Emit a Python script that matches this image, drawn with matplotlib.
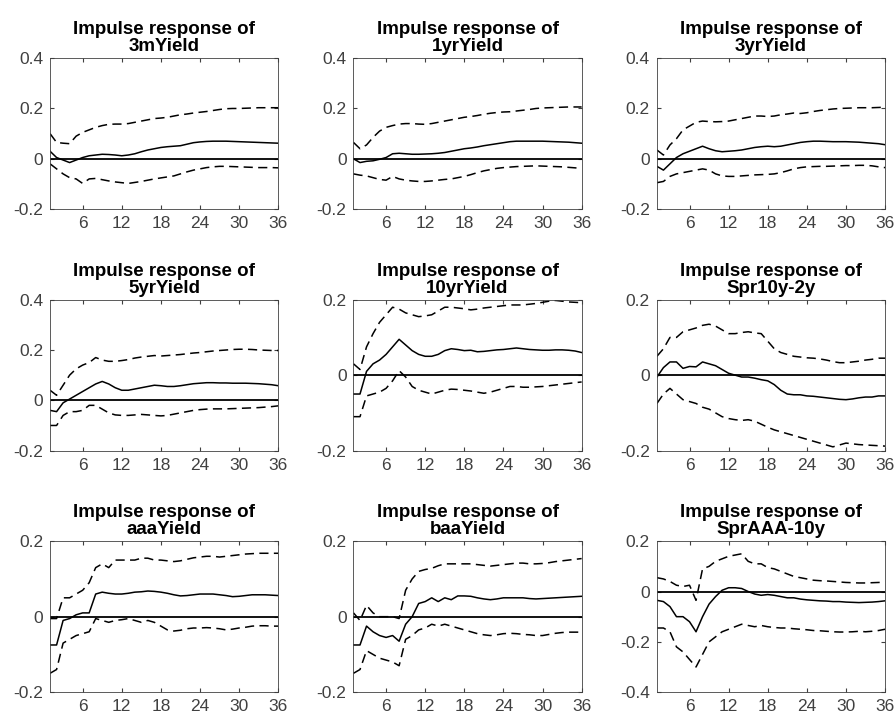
import matplotlib
matplotlib.use("Agg")
import matplotlib.pyplot as plt
import numpy as np

plt.rcParams['font.family'] = ['Liberation Sans', 'DejaVu Sans']

h = np.arange(1, 37)

names = ["3mYield", "1yrYield", "3yrYield", "5yrYield", "10yrYield", "Spr10y-2y",
         "aaaYield", "baaYield", "SprAAA-10y"]

ylims = [(-0.2, 0.4), (-0.2, 0.4), (-0.2, 0.4), (-0.2, 0.4), (-0.2, 0.2), (-0.2, 0.2),
         (-0.2, 0.2), (-0.2, 0.2), (-0.4, 0.2)]

mid = [
    [0.03,0.005,-0.005,-0.015,-0.005,0.005,0.012,0.015,0.018,0.017,0.015,0.012,0.015,0.02,0.028,0.035,0.04,0.045,0.048,0.05,0.052,0.058,0.064,0.067,0.069,0.07,0.07,0.07,0.069,0.068,0.067,0.066,0.065,0.064,0.063,0.062],
    [0.0,-0.015,-0.01,-0.008,-0.002,0.005,0.02,0.022,0.02,0.018,0.018,0.019,0.02,0.022,0.025,0.03,0.035,0.04,0.043,0.047,0.052,0.056,0.06,0.064,0.068,0.07,0.07,0.07,0.07,0.07,0.069,0.068,0.067,0.066,0.064,0.062],
    [-0.03,-0.045,-0.02,0.005,0.02,0.03,0.04,0.05,0.04,0.032,0.028,0.03,0.032,0.035,0.04,0.045,0.048,0.05,0.048,0.05,0.055,0.06,0.065,0.068,0.07,0.07,0.069,0.068,0.068,0.068,0.067,0.066,0.064,0.062,0.06,0.056],
    [-0.04,-0.045,-0.01,0.005,0.02,0.035,0.05,0.065,0.075,0.065,0.05,0.04,0.04,0.045,0.05,0.055,0.06,0.058,0.055,0.055,0.058,0.062,0.066,0.068,0.07,0.07,0.069,0.069,0.068,0.068,0.068,0.067,0.066,0.064,0.062,0.058],
    [-0.05,-0.05,0.01,0.03,0.04,0.055,0.075,0.095,0.08,0.065,0.055,0.05,0.05,0.055,0.065,0.07,0.068,0.065,0.066,0.062,0.063,0.065,0.067,0.068,0.07,0.072,0.07,0.068,0.067,0.066,0.066,0.067,0.067,0.066,0.064,0.06],
    [-0.005,0.02,0.035,0.035,0.018,0.023,0.022,0.035,0.03,0.025,0.015,0.005,0.0,-0.005,-0.005,-0.008,-0.012,-0.015,-0.025,-0.04,-0.05,-0.052,-0.052,-0.055,-0.056,-0.058,-0.06,-0.062,-0.064,-0.065,-0.063,-0.06,-0.058,-0.058,-0.055,-0.055],
    [-0.075,-0.075,-0.01,-0.005,0.005,0.01,0.01,0.06,0.065,0.062,0.06,0.06,0.062,0.065,0.066,0.068,0.067,0.065,0.062,0.058,0.055,0.056,0.058,0.06,0.06,0.06,0.058,0.056,0.053,0.054,0.056,0.058,0.058,0.058,0.057,0.056],
    [-0.075,-0.075,-0.025,-0.04,-0.05,-0.055,-0.05,-0.065,-0.02,0.0,0.035,0.04,0.05,0.04,0.05,0.045,0.055,0.055,0.054,0.05,0.047,0.045,0.047,0.05,0.05,0.05,0.05,0.048,0.047,0.048,0.049,0.05,0.051,0.052,0.053,0.054],
    [-0.035,-0.04,-0.06,-0.1,-0.1,-0.12,-0.16,-0.1,-0.05,-0.02,0.005,0.015,0.015,0.012,0.0,-0.01,-0.015,-0.012,-0.015,-0.02,-0.025,-0.025,-0.03,-0.033,-0.035,-0.037,-0.038,-0.04,-0.04,-0.042,-0.043,-0.044,-0.043,-0.042,-0.04,-0.037],
]

upper = [
    [0.1,0.065,0.062,0.06,0.09,0.105,0.115,0.125,0.132,0.137,0.138,0.138,0.14,0.145,0.15,0.155,0.16,0.162,0.165,0.17,0.175,0.178,0.182,0.185,0.188,0.192,0.196,0.199,0.2,0.2,0.201,0.202,0.203,0.203,0.203,0.203],
    [0.065,0.04,0.055,0.085,0.11,0.125,0.132,0.138,0.14,0.14,0.138,0.137,0.14,0.145,0.15,0.155,0.16,0.165,0.168,0.172,0.177,0.181,0.184,0.186,0.187,0.19,0.193,0.196,0.2,0.202,0.203,0.204,0.205,0.206,0.206,0.206],
    [0.035,0.015,0.055,0.08,0.115,0.13,0.145,0.15,0.148,0.147,0.148,0.15,0.155,0.16,0.165,0.17,0.17,0.168,0.17,0.175,0.178,0.182,0.18,0.183,0.188,0.192,0.195,0.198,0.2,0.201,0.202,0.203,0.203,0.203,0.204,0.205],
    [0.04,0.02,0.06,0.1,0.125,0.14,0.15,0.17,0.16,0.155,0.155,0.158,0.162,0.168,0.172,0.175,0.178,0.176,0.178,0.18,0.182,0.185,0.188,0.19,0.193,0.196,0.198,0.2,0.202,0.203,0.203,0.202,0.2,0.199,0.198,0.198],
    [0.03,0.015,0.075,0.11,0.14,0.16,0.18,0.175,0.165,0.16,0.155,0.157,0.16,0.17,0.18,0.18,0.178,0.176,0.173,0.175,0.178,0.18,0.182,0.184,0.186,0.186,0.186,0.188,0.19,0.193,0.196,0.198,0.196,0.194,0.193,0.192],
    [0.05,0.07,0.1,0.1,0.115,0.12,0.125,0.132,0.135,0.13,0.12,0.11,0.11,0.113,0.115,0.112,0.11,0.09,0.07,0.06,0.055,0.05,0.048,0.046,0.045,0.043,0.04,0.036,0.033,0.033,0.035,0.037,0.04,0.042,0.045,0.045],
    [-0.005,-0.005,0.05,0.05,0.06,0.07,0.09,0.13,0.14,0.13,0.15,0.15,0.15,0.15,0.155,0.155,0.15,0.15,0.148,0.146,0.148,0.152,0.156,0.158,0.16,0.16,0.158,0.16,0.162,0.164,0.166,0.167,0.168,0.168,0.168,0.168],
    [0.01,-0.01,0.03,0.01,0.0,0.0,0.0,-0.005,0.07,0.1,0.12,0.125,0.128,0.135,0.14,0.14,0.14,0.14,0.14,0.138,0.136,0.134,0.136,0.138,0.14,0.142,0.142,0.14,0.14,0.141,0.143,0.146,0.148,0.15,0.152,0.154],
    [0.055,0.05,0.04,0.025,0.02,0.025,-0.035,0.09,0.1,0.12,0.13,0.14,0.145,0.15,0.12,0.11,0.11,0.095,0.09,0.08,0.07,0.06,0.055,0.05,0.045,0.043,0.042,0.04,0.038,0.036,0.035,0.034,0.034,0.035,0.036,0.037],
]

lower = [
    [-0.02,-0.04,-0.06,-0.075,-0.08,-0.098,-0.08,-0.078,-0.083,-0.088,-0.092,-0.095,-0.098,-0.094,-0.09,-0.085,-0.08,-0.076,-0.072,-0.068,-0.06,-0.052,-0.045,-0.04,-0.035,-0.032,-0.03,-0.03,-0.031,-0.032,-0.033,-0.034,-0.035,-0.035,-0.035,-0.036],
    [-0.06,-0.065,-0.068,-0.075,-0.082,-0.085,-0.07,-0.08,-0.085,-0.088,-0.09,-0.09,-0.088,-0.085,-0.082,-0.08,-0.075,-0.07,-0.063,-0.055,-0.048,-0.043,-0.038,-0.035,-0.033,-0.031,-0.03,-0.029,-0.028,-0.029,-0.03,-0.031,-0.032,-0.034,-0.036,-0.038],
    [-0.095,-0.09,-0.07,-0.06,-0.055,-0.05,-0.045,-0.04,-0.045,-0.06,-0.068,-0.07,-0.07,-0.068,-0.066,-0.064,-0.063,-0.062,-0.06,-0.055,-0.048,-0.04,-0.035,-0.032,-0.031,-0.03,-0.03,-0.029,-0.028,-0.027,-0.027,-0.026,-0.026,-0.028,-0.032,-0.035],
    [-0.1,-0.1,-0.06,-0.045,-0.045,-0.04,-0.02,-0.02,-0.035,-0.05,-0.058,-0.06,-0.06,-0.058,-0.056,-0.058,-0.06,-0.062,-0.06,-0.055,-0.05,-0.045,-0.04,-0.037,-0.035,-0.034,-0.034,-0.034,-0.033,-0.032,-0.031,-0.03,-0.029,-0.027,-0.025,-0.022],
    [-0.11,-0.11,-0.055,-0.05,-0.045,-0.035,-0.015,0.012,-0.005,-0.03,-0.04,-0.045,-0.05,-0.045,-0.04,-0.037,-0.038,-0.04,-0.042,-0.045,-0.048,-0.045,-0.04,-0.035,-0.03,-0.03,-0.032,-0.032,-0.031,-0.03,-0.028,-0.026,-0.024,-0.022,-0.02,-0.018],
    [-0.075,-0.05,-0.035,-0.05,-0.065,-0.07,-0.075,-0.085,-0.09,-0.1,-0.11,-0.115,-0.118,-0.12,-0.118,-0.122,-0.13,-0.138,-0.145,-0.15,-0.155,-0.16,-0.165,-0.17,-0.175,-0.18,-0.185,-0.19,-0.185,-0.18,-0.182,-0.184,-0.185,-0.186,-0.187,-0.188],
    [-0.15,-0.14,-0.07,-0.06,-0.05,-0.045,-0.04,-0.005,-0.01,-0.015,-0.01,-0.008,-0.005,-0.01,-0.015,-0.01,-0.015,-0.025,-0.035,-0.038,-0.036,-0.032,-0.03,-0.03,-0.029,-0.03,-0.032,-0.035,-0.033,-0.03,-0.028,-0.025,-0.024,-0.024,-0.025,-0.025],
    [-0.15,-0.14,-0.09,-0.1,-0.11,-0.115,-0.12,-0.13,-0.06,-0.05,-0.035,-0.03,-0.02,-0.025,-0.02,-0.025,-0.03,-0.035,-0.04,-0.045,-0.048,-0.05,-0.048,-0.045,-0.044,-0.045,-0.047,-0.048,-0.05,-0.05,-0.047,-0.044,-0.042,-0.041,-0.041,-0.041],
    [-0.145,-0.145,-0.16,-0.22,-0.24,-0.27,-0.3,-0.25,-0.2,-0.18,-0.16,-0.15,-0.14,-0.13,-0.135,-0.14,-0.135,-0.14,-0.143,-0.145,-0.145,-0.148,-0.15,-0.152,-0.155,-0.156,-0.158,-0.16,-0.161,-0.161,-0.16,-0.158,-0.16,-0.158,-0.155,-0.15],
]

xticks = [6, 12, 18, 24, 30, 36]


def fmt(v):
    if abs(v) < 1e-9:
        return "0"
    return f"{v:.1f}"


fig, axes = plt.subplots(3, 3, figsize=(8.94, 7.18), dpi=100)
fig.subplots_adjust(left=0.056, right=0.99, top=0.919, bottom=0.036, wspace=0.33, hspace=0.6)

for i, ax in enumerate(axes.flat):
    ax.plot(h, mid[i], color='black', lw=1.1)
    ax.plot(h, upper[i], color='black', lw=1.1, dashes=(6, 3.5))
    ax.plot(h, lower[i], color='black', lw=1.1, dashes=(6, 3.5))
    ax.axhline(0, color='black', lw=1.3)
    ax.set_xlim(1, 36)
    lo, hi = ylims[i]
    ax.set_ylim(lo, hi)
    yt = np.round(np.arange(lo, hi + 0.01, 0.2), 1)
    ax.set_yticks(yt)
    ax.set_yticklabels([fmt(v) for v in yt])
    ax.set_xticks(xticks)
    ax.tick_params(direction='in', top=True, right=True, labelsize=12.5, colors='#404040',
                   length=3, pad=5)
    for s in ax.spines.values():
        s.set_color('#404040')
        s.set_linewidth(0.6)
    ax.set_title("Impulse response of\n" + names[i], fontsize=13.5, fontweight='bold',
                 linespacing=1.0, pad=5)

fig.savefig("out.png", dpi=100)
